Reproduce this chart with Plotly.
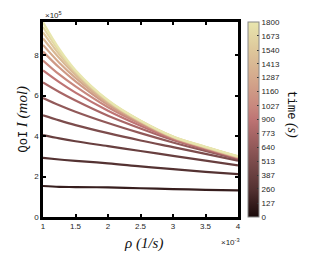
import plotly.graph_objects as go
from plotly.colors import sample_colorscale

# rho in units of 1e-3 (1/s)
rho = [1.0, 1.25, 1.5, 2.0, 2.5, 3.0, 3.5, 4.0]
times = [127, 260, 387, 513, 640, 773, 900, 1027, 1160, 1287, 1413, 1540, 1673, 1800]

# QoI I in units of 1e5 mol, one list per time snapshot
i_127 = [1.53, 1.49, 1.48, 1.46, 1.42, 1.38, 1.34, 1.31]
i_260 = [2.92, 2.84, 2.77, 2.65, 2.50, 2.36, 2.23, 2.12]
i_387 = [4.04, 3.88, 3.74, 3.50, 3.26, 3.02, 2.78, 2.55]
i_513 = [5.02, 4.77, 4.54, 4.14, 3.78, 3.45, 3.12, 2.78]
i_640 = [5.88, 5.52, 5.20, 4.64, 4.14, 3.68, 3.26, 2.86]
i_773 = [6.64, 6.17, 5.75, 5.00, 4.37, 3.80, 3.33, 2.90]
i_900 = [7.24, 6.66, 6.14, 5.25, 4.51, 3.86, 3.38, 2.92]
i_1027 = [7.73, 7.04, 6.45, 5.42, 4.60, 3.90, 3.40, 2.94]
i_1160 = [8.17, 7.38, 6.70, 5.54, 4.66, 3.92, 3.42, 2.95]
i_1287 = [8.50, 7.62, 6.87, 5.62, 4.70, 3.94, 3.43, 2.96]
i_1413 = [8.82, 7.85, 7.02, 5.68, 4.72, 3.95, 3.44, 2.97]
i_1540 = [9.12, 8.03, 7.12, 5.72, 4.74, 3.96, 3.45, 2.98]
i_1673 = [9.38, 8.18, 7.20, 5.75, 4.75, 3.97, 3.46, 2.99]
i_1800 = [9.62, 8.30, 7.25, 5.77, 4.76, 3.98, 3.47, 3.00]
series = [i_127, i_260, i_387, i_513, i_640, i_773, i_900, i_1027,
          i_1160, i_1287, i_1413, i_1540, i_1673, i_1800]

cbar_ticks = [0, 127, 260, 387, 513, 640, 773, 900, 1027, 1160, 1287, 1413, 1540, 1673, 1800]
x_ticks = [1, 1.5, 2, 2.5, 3, 3.5, 4]
x_labels = ["1", "1.5", "2", "2.5", "3", "3.5", "4"]
y_ticks = [0, 2, 4, 6, 8]

tmax = 1800.0
cscale = [
    [0.0, "rgb(26,10,10)"],
    [0.143, "rgb(84,50,50)"],
    [0.286, "rgb(124,76,76)"],
    [0.43, "rgb(168,102,102)"],
    [0.5, "rgb(190,116,116)"],
    [0.57, "rgb(200,136,126)"],
    [0.71, "rgb(212,168,140)"],
    [0.86, "rgb(222,200,155)"],
    [1.0, "rgb(232,230,174)"],
]

MONO = "Liberation Mono, DejaVu Sans Mono, monospace"
SERIF = "Liberation Serif, DejaVu Serif, serif"
SANS = "Liberation Sans, Arial, sans-serif"

fig = go.Figure()
for t, vals in zip(times, series):
    col = sample_colorscale(cscale, [t / tmax])[0]
    fig.add_trace(go.Scatter(x=rho, y=vals, mode="lines",
                             line=dict(color=col, width=2.2, shape="spline"),
                             showlegend=False, hoverinfo="skip"))

# colorbar carrier
fig.add_trace(go.Scatter(
    x=[None], y=[None], mode="markers", showlegend=False,
    marker=dict(color=[0, 1800], cmin=0, cmax=1800, colorscale=cscale, showscale=True,
                colorbar=dict(
                    x=1.051, xanchor="left", xpad=0, y=0.5, yanchor="middle", len=1.0, ypad=0,
                    thickness=11, outlinewidth=1, outlinecolor="#888888",
                    tickvals=cbar_ticks, ticktext=[str(v) for v in cbar_ticks],
                    ticks="inside", ticklen=2, tickcolor="#333333",
                    tickfont=dict(family=SANS, size=8, color="#262626"),
                )),
))

axis_common = dict(showline=True, linewidth=2.5, linecolor="black", mirror="ticks",
                   ticks="inside", ticklen=3, tickwidth=2, tickcolor="black",
                   showgrid=False, zeroline=False, automargin=False,
                   tickfont=dict(family=SANS, size=8, color="#262626"))

fig.update_xaxes(range=[1, 4], tickvals=x_ticks, ticktext=x_labels, **axis_common)
fig.update_yaxes(range=[0, 9.63], tickvals=y_ticks, ticktext=[str(v) for v in y_ticks], **axis_common)

# axis titles as annotations (pixel-placed)
fig.add_annotation(text="<i>ρ (1/s)</i>", xref="paper", yref="paper", x=0.5, y=0.0,
                   xanchor="center", yanchor="top", yshift=-16, xshift=3, showarrow=False,
                   font=dict(family=SERIF, size=15, color="#111111"))
fig.add_annotation(text='<span style="font-family:' + MONO + ';font-size:12px">QoI</span> <i>I (mol)</i>',
                   xref="paper", yref="paper", x=0.0, y=0.5, xanchor="center", yanchor="middle",
                   xshift=-21, textangle=-90, showarrow=False,
                   font=dict(family=SERIF, size=15, color="#111111"))
fig.add_annotation(text='<span style="font-family:' + MONO + ';font-size:12px">time</span> <i>(s)</i>',
                   xref="paper", yref="paper", x=1.0, y=0.53, xanchor="center", yanchor="middle",
                   xshift=54, textangle=90, showarrow=False,
                   font=dict(family=SERIF, size=14, color="#111111"))

fig.add_annotation(text="×10<sup>5</sup>", xref="paper", yref="paper", x=0.0, y=1.0,
                   xanchor="left", yanchor="bottom", showarrow=False, yshift=0,
                   font=dict(family=SANS, size=8, color="#262626"))
fig.add_annotation(text="×10<sup>-3</sup>", xref="paper", yref="paper", x=1.0, y=0.0,
                   xanchor="right", yanchor="top", showarrow=False, yshift=-18, xshift=4,
                   font=dict(family=SANS, size=8, color="#262626"))

# page has an 8px body margin, so the figure is sized/offset to compensate
fig.update_layout(width=301, height=247, margin=dict(l=35, r=71, t=14, b=38, autoexpand=False),
                  paper_bgcolor="white", plot_bgcolor="white")
fig.write_html("out.html")
